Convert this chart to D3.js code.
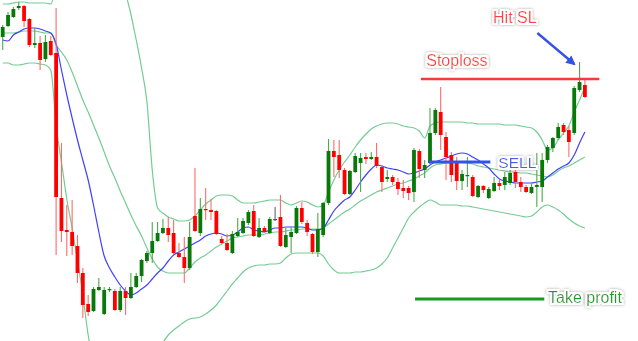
<!DOCTYPE html>
<html>
<head>
<meta charset="utf-8">
<script src="https://cdn.jsdelivr.net/npm/d3@7.9.0/dist/d3.min.js"></script>
<style>
  html, body { margin: 0; padding: 0; background: #fff; }
  svg { display: block; }
  text { font-family: "Liberation Sans", Arial, sans-serif; }
</style>
</head>
<body>
<svg id="chart" width="638" height="341"></svg>
<script>
// OHLC prices, one entry per candle
const opens = [
  1.3363,1.3374,1.3383,1.3392,1.3394,1.3381,1.3355,1.3357,1.3341,1.3359,
  1.3347,1.3202,1.3170,1.3168,1.3154,1.3127,1.3096,1.3089,1.3110,1.3086,
  1.3110,1.3109,1.3090,1.3109,1.3102,1.3113,1.3124,1.3139,1.3147,1.3159,
  1.3167,1.3172,1.3167,1.3147,1.3143,1.3132,1.3184,1.3167,1.3191,1.3190,
  1.3189,1.3161,1.3157,1.3147,1.3164,1.3167,1.3177,1.3189,1.3163,1.3172,
  1.3167,1.3181,1.3183,1.3153,1.3163,1.3167,1.3192,1.3177,1.3166,1.3148,
  1.3165,1.3197,1.3249,1.3245,1.3230,1.3206,1.3228,1.3237,1.3243,1.3241,
  1.3243,1.3233,1.3221,1.3223,1.3218,1.3212,1.3212,1.3208,1.3249,1.3230,
  1.3237,1.3267,1.3288,1.3263,1.3245,1.3237,1.3219,1.3224,1.3223,1.3203,
  1.3214,1.3202,1.3209,1.3217,1.3215,1.3217,1.3228,1.3218,1.3213,1.3207,
  1.3213,1.3213,1.3240,1.3252,1.3262,1.3275,1.3270,1.3267,1.3310,1.3315
];
const highs = [
  1.3375,1.3388,1.3393,1.3398,1.3395,1.3382,1.3372,1.3364,1.3365,1.3364,
  1.3392,1.3257,1.3195,1.3200,1.3165,1.3132,1.3105,1.3113,1.3122,1.3113,
  1.3113,1.3111,1.3113,1.3113,1.3127,1.3127,1.3141,1.3149,1.3178,1.3178,
  1.3181,1.3183,1.3180,1.3157,1.3163,1.3178,1.3232,1.3202,1.3212,1.3201,
  1.3190,1.3164,1.3166,1.3169,1.3182,1.3182,1.3190,1.3195,1.3182,1.3174,
  1.3183,1.3193,1.3205,1.3172,1.3173,1.3194,1.3198,1.3180,1.3167,1.3187,
  1.3198,1.3261,1.3260,1.3260,1.3232,1.3230,1.3247,1.3247,1.3247,1.3248,
  1.3257,1.3235,1.3230,1.3225,1.3222,1.3220,1.3214,1.3252,1.3251,1.3240,
  1.3292,1.3292,1.3313,1.3268,1.3248,1.3243,1.3230,1.3243,1.3225,1.3215,
  1.3215,1.3213,1.3223,1.3220,1.3228,1.3230,1.3230,1.3223,1.3215,1.3217,
  1.3247,1.3247,1.3255,1.3263,1.3277,1.3277,1.3274,1.3314,1.3338,1.3320
];
const lows = [
  1.3350,1.3373,1.3382,1.3390,1.3373,1.3353,1.3352,1.3330,1.3338,1.3344,
  1.3145,1.3158,1.3144,1.3145,1.3117,1.3082,1.3084,1.3088,1.3109,1.3085,
  1.3108,1.3089,1.3088,1.3085,1.3101,1.3112,1.3118,1.3137,1.3137,1.3158,
  1.3166,1.3158,1.3146,1.3142,1.3117,1.3130,1.3168,1.3164,1.3180,1.3180,
  1.3165,1.3156,1.3149,1.3146,1.3163,1.3166,1.3175,1.3163,1.3162,1.3167,
  1.3166,1.3179,1.3153,1.3152,1.3147,1.3166,1.3176,1.3164,1.3146,1.3143,
  1.3163,1.3195,1.3223,1.3222,1.3205,1.3205,1.3227,1.3208,1.3236,1.3240,
  1.3232,1.3208,1.3218,1.3215,1.3205,1.3202,1.3200,1.3198,1.3222,1.3222,
  1.3236,1.3265,1.3250,1.3220,1.3218,1.3210,1.3210,1.3213,1.3203,1.3202,
  1.3207,1.3201,1.3208,1.3210,1.3210,1.3215,1.3212,1.3208,1.3207,1.3206,
  1.3193,1.3198,1.3237,1.3248,1.3260,1.3265,1.3243,1.3265,1.3308,1.3302
];
const closes = [
  1.3373,1.3385,1.3391,1.3394,1.3379,1.3355,1.3357,1.3340,1.3358,1.3345,
  1.3203,1.3169,1.3168,1.3154,1.3127,1.3095,1.3088,1.3111,1.3113,1.3110,
  1.3111,1.3090,1.3109,1.3102,1.3113,1.3124,1.3140,1.3147,1.3159,1.3167,
  1.3172,1.3165,1.3147,1.3143,1.3132,1.3163,1.3169,1.3191,1.3190,1.3188,
  1.3166,1.3157,1.3150,1.3166,1.3168,1.3179,1.3188,1.3164,1.3172,1.3168,
  1.3181,1.3181,1.3154,1.3165,1.3168,1.3192,1.3178,1.3168,1.3148,1.3171,
  1.3197,1.3249,1.3243,1.3230,1.3206,1.3229,1.3244,1.3242,1.3241,1.3243,
  1.3234,1.3218,1.3223,1.3218,1.3211,1.3209,1.3207,1.3250,1.3231,1.3235,
  1.3267,1.3290,1.3265,1.3243,1.3225,1.3219,1.3226,1.3225,1.3204,1.3214,
  1.3210,1.3211,1.3217,1.3214,1.3223,1.3227,1.3218,1.3213,1.3208,1.3213,
  1.3215,1.3240,1.3253,1.3262,1.3273,1.3268,1.3258,1.3312,1.3318,1.3303
];

// indicator lines (Bollinger bands + fast MA)
const upperBand = [
  1.3396,1.3396,1.3397,1.3398,1.3398,1.3397,1.3397,1.3397,1.3397,1.3396,
  1.3415,1.3435,1.3450,1.3462,1.3472,1.3480,1.3485,1.3488,1.3488,1.3485,
  1.3480,1.3472,1.3460,1.3410,1.3386,1.3360,1.3332,1.3298,1.3230,1.3192,
  1.3187,1.3183,1.3181,1.3179,1.3179,1.3180,1.3184,1.3190,1.3196,1.3200,
  1.3204,1.3205,1.3205,1.3204,1.3200,1.3197,1.3197,1.3197,1.3198,1.3199,
  1.3200,1.3200,1.3200,1.3197,1.3195,1.3197,1.3199,1.3198,1.3195,1.3193,
  1.3195,1.3208,1.3220,1.3230,1.3238,1.3245,1.3253,1.3260,1.3266,1.3271,
  1.3274,1.3276,1.3277,1.3277,1.3276,1.3274,1.3273,1.3272,1.3269,1.3262,
  1.3274,1.3277,1.3278,1.3278,1.3278,1.3278,1.3278,1.3277,1.3277,1.3276,
  1.3276,1.3276,1.3276,1.3276,1.3275,1.3275,1.3275,1.3274,1.3273,1.3272,
  1.3268,1.3260,1.3250,1.3252,1.3260,1.3267,1.3274,1.3288,1.3300,1.3313
];
const middleBand = [
  1.3367,1.3367,1.3367,1.3368,1.3369,1.3369,1.3369,1.3368,1.3367,1.3367,
  1.3355,1.3348,1.3340,1.3328,1.3314,1.3300,1.3288,1.3275,1.3262,1.3248,
  1.3234,1.3222,1.3209,1.3197,1.3185,1.3174,1.3164,1.3152,1.3141,1.3133,
  1.3129,1.3127,1.3127,1.3127,1.3127,1.3132,1.3138,1.3142,1.3145,1.3149,
  1.3153,1.3156,1.3159,1.3162,1.3163,1.3164,1.3165,1.3165,1.3165,1.3166,
  1.3167,1.3168,1.3168,1.3169,1.3170,1.3170,1.3171,1.3171,1.3171,1.3171,
  1.3172,1.3176,1.3180,1.3184,1.3188,1.3191,1.3195,1.3199,1.3202,1.3205,
  1.3208,1.3210,1.3212,1.3214,1.3216,1.3217,1.3219,1.3221,1.3224,1.3227,
  1.3232,1.3235,1.3236,1.3237,1.3237,1.3238,1.3238,1.3237,1.3236,1.3234,
  1.3233,1.3232,1.3231,1.3230,1.3229,1.3228,1.3228,1.3227,1.3227,1.3226,
  1.3225,1.3224,1.3223,1.3225,1.3229,1.3232,1.3234,1.3237,1.3240,1.3243
];
const lowerBand = [
  1.3337,1.3337,1.3335,1.3335,1.3336,1.3337,1.3337,1.3336,1.3335,1.3330,
  1.3275,1.3238,1.3201,1.3172,1.3140,1.3105,1.3065,1.3035,1.3010,1.2990,
  1.2975,1.2965,1.2960,1.2960,1.2965,1.2975,1.2990,1.3005,1.3025,1.3045,
  1.3057,1.3065,1.3070,1.3074,1.3078,1.3081,1.3082,1.3083,1.3086,1.3090,
  1.3095,1.3102,1.3109,1.3116,1.3122,1.3128,1.3132,1.3134,1.3135,1.3135,
  1.3136,1.3136,1.3137,1.3142,1.3146,1.3147,1.3147,1.3147,1.3147,1.3147,
  1.3144,1.3136,1.3130,1.3127,1.3127,1.3127,1.3128,1.3128,1.3129,1.3130,
  1.3132,1.3136,1.3142,1.3152,1.3162,1.3172,1.3182,1.3188,1.3193,1.3197,
  1.3200,1.3198,1.3195,1.3195,1.3195,1.3195,1.3194,1.3194,1.3193,1.3192,
  1.3191,1.3190,1.3189,1.3188,1.3187,1.3186,1.3185,1.3184,1.3183,1.3184,
  1.3188,1.3193,1.3195,1.3193,1.3190,1.3186,1.3181,1.3177,1.3174,1.3172
];
const fastMA = [
  1.3360,1.3359,1.3365,1.3368,1.3371,1.3372,1.3372,1.3371,1.3369,1.3367,
  1.3356,1.3330,1.3305,1.3282,1.3260,1.3240,1.3220,1.3195,1.3168,1.3144,
  1.3132,1.3123,1.3115,1.3109,1.3105,1.3107,1.3111,1.3115,1.3121,1.3127,
  1.3132,1.3139,1.3145,1.3148,1.3151,1.3154,1.3157,1.3160,1.3164,1.3166,
  1.3167,1.3166,1.3164,1.3165,1.3168,1.3172,1.3173,1.3170,1.3169,1.3168,
  1.3170,1.3172,1.3172,1.3173,1.3173,1.3173,1.3173,1.3172,1.3170,1.3170,
  1.3172,1.3180,1.3189,1.3195,1.3200,1.3203,1.3210,1.3218,1.3225,1.3231,
  1.3235,1.3234,1.3232,1.3231,1.3230,1.3228,1.3226,1.3227,1.3229,1.3231,
  1.3235,1.3238,1.3240,1.3242,1.3244,1.3246,1.3247,1.3246,1.3243,1.3240,
  1.3236,1.3232,1.3226,1.3221,1.3219,1.3218,1.3217,1.3217,1.3217,1.3217,
  1.3218,1.3219,1.3223,1.3227,1.3231,1.3234,1.3237,1.3245,1.3257,1.3268
];

// trade levels (price) and their candle span
const levelNames  = ['Stoploss', 'SELL', 'Take profit'];
const levelPrices = [1.3321, 1.3238, 1.3101];
const levelFrom   = [78.3, 79.8, 77.2];
const levelTo     = [111.7, 91.3, 101.4];

const width = 638, height = 341;
const svg = d3.select('#chart');

const candles = opens.map((o, i) => ({ i, o, h: highs[i], l: lows[i], c: closes[i] }));

const x = d3.scaleLinear().domain([0, candles.length - 1]).range([2.7, 584.9]);
const y = d3.scaleLinear().domain([1.3059, 1.3400]).range([height, 0]);

// text halo
const defs = svg.append('defs');
const f = defs.append('filter').attr('id', 'halo')
  .attr('x', '-20%').attr('y', '-50%').attr('width', '140%').attr('height', '200%');
f.append('feMorphology').attr('in', 'SourceAlpha').attr('operator', 'dilate').attr('radius', 2.4).attr('result', 'd');
f.append('feGaussianBlur').attr('in', 'd').attr('stdDeviation', 1.4).attr('result', 'b');
f.append('feFlood').attr('flood-color', '#808080').attr('flood-opacity', 0.7);
f.append('feComposite').attr('in2', 'b').attr('operator', 'in').attr('result', 'shadow');
f.append('feMorphology').attr('in', 'SourceAlpha').attr('operator', 'dilate').attr('radius', 1.5).attr('result', 'd2');
f.append('feFlood').attr('flood-color', '#ffffff');
f.append('feComposite').attr('in2', 'd2').attr('operator', 'in').attr('result', 'white');
const m = f.append('feMerge');
m.append('feMergeNode').attr('in', 'shadow');
m.append('feMergeNode').attr('in', 'white');
m.append('feMergeNode').attr('in', 'SourceGraphic');

defs.append('marker').attr('id', 'arrow')
  .attr('viewBox', '0 0 10 10').attr('refX', 8).attr('refY', 5)
  .attr('markerWidth', 4).attr('markerHeight', 4).attr('orient', 'auto')
  .attr('markerUnits', 'strokeWidth')
  .append('path').attr('d', 'M0,0 L10,5 L0,10 z').attr('fill', '#3552e6');

// indicator lines
const line = d3.line()
  .x((d, i) => x(i))
  .y(d => y(d))
  .curve(d3.curveMonotoneX);

[upperBand, middleBand, lowerBand].forEach(band => {
  svg.append('path')
    .attr('d', line(band))
    .attr('fill', 'none')
    .attr('stroke', '#74cc94')
    .attr('stroke-width', 1.2);
});

svg.append('path')
  .attr('d', line(fastMA))
  .attr('fill', 'none')
  .attr('stroke', '#4040ff')
  .attr('stroke-width', 1.2);

// candles
const bodyW = 3.8;
const up = d => d.c > d.o;
const flat = d => d.c === d.o;

svg.append('g').selectAll('line')
  .data(candles).join('line')
  .attr('x1', d => x(d.i)).attr('x2', d => x(d.i))
  .attr('y1', d => y(d.h)).attr('y2', d => y(d.l))
  .attr('stroke', d => flat(d) ? '#666' : up(d) ? '#4caa4c' : '#ff6b6b')
  .attr('stroke-width', 1.1);

svg.append('g').selectAll('rect')
  .data(candles).join('rect')
  .attr('x', d => x(d.i) - bodyW / 2)
  .attr('width', bodyW)
  .attr('y', d => y(Math.max(d.o, d.c)))
  .attr('height', d => Math.max(1.2, Math.abs(y(d.o) - y(d.c))))
  .attr('fill', d => flat(d) ? '#555' : up(d) ? '#087808' : '#ff0000');

// trade levels
const levelColors = ['#f23b3b', '#3552e6', '#169a22'];
const levelWidths = [2.6, 3, 2.8];
levelPrices.forEach((p, k) => {
  svg.append('line')
    .attr('x1', x(levelFrom[k])).attr('x2', x(levelTo[k]))
    .attr('y1', y(p)).attr('y2', y(p))
    .attr('stroke', levelColors[k])
    .attr('stroke-width', levelWidths[k]);
});

// "Hit SL" arrow
svg.append('line')
  .attr('x1', x(100.1)).attr('y1', y(1.3367))
  .attr('x2', x(107.0)).attr('y2', y(1.3336))
  .attr('stroke', '#3552e6')
  .attr('stroke-width', 2.4)
  .attr('marker-end', 'url(#arrow)');

// labels
const labels = [
  { text: 'Hit SL',      i: 91.8,  p: 1.3377, color: '#ff4040', size: 16 },
  { text: levelNames[0], i: 79.3,  p: 1.3334, color: '#ff4040', size: 16 },
  { text: levelNames[1], i: 92.8,  p: 1.3232, color: '#4560ea', size: 15.5 },
  { text: levelNames[2], i: 102.1, p: 1.3097, color: '#1d9e28', size: 16 }
];
svg.append('g').selectAll('text')
  .data(labels).join('text')
  .attr('x', d => x(d.i))
  .attr('y', d => y(d.p))
  .attr('fill', d => d.color)
  .attr('font-size', d => d.size)
  .attr('filter', 'url(#halo)')
  .text(d => d.text);
</script>
</body>
</html>
